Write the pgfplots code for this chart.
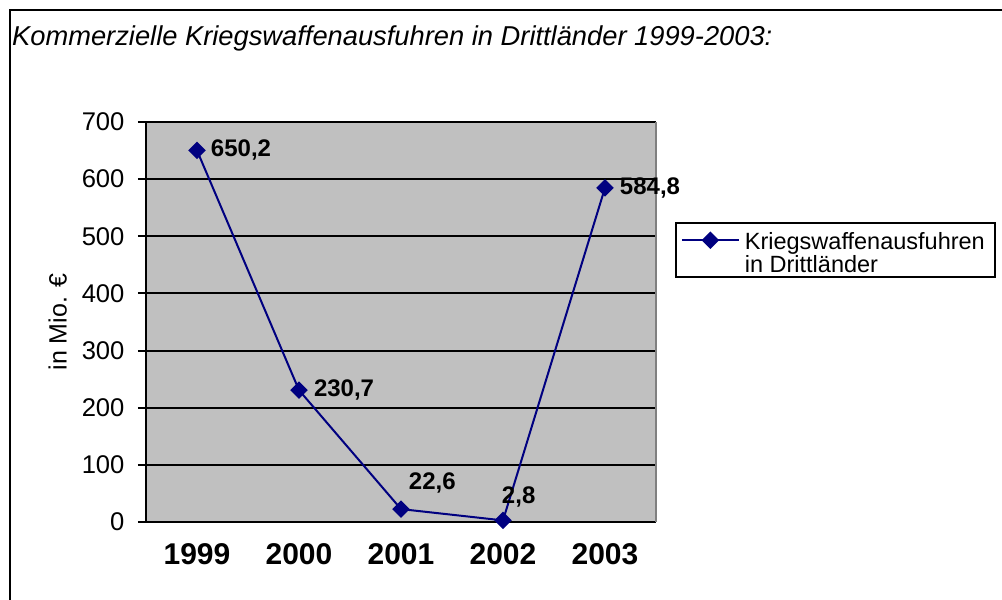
\documentclass[border=0pt]{standalone}
\usepackage{fontspec}
\setmainfont{Liberation Sans}
\usepackage{pgfplots}
\pgfplotsset{compat=1.18}
\definecolor{navy}{HTML}{000080}
\definecolor{plotgray}{HTML}{C0C0C0}
\begin{document}
\begin{tikzpicture}[x=1pt,y=1pt]
\useasboundingbox (0,0) rectangle (1002,600);
\draw[line width=2pt] (10,-20) -- (10,590) -- (1030,590);
\node[anchor=base west, inner sep=0pt, font=\itshape\fontsize{27.3}{32}\selectfont] at (12,554) {Kommerzielle Kriegswaffenausfuhren in Drittländer 1999-2003:};
\begin{axis}[
  at={(146pt,78pt)}, anchor=south west,
  width=510pt, height=400pt, scale only axis,
  xmin=-0.5, xmax=4.5, ymin=0, ymax=700,
  axis background/.style={fill=plotgray},
  axis line style={draw=none},
  ytick={0,100,...,700},
  ymajorgrids, major grid style={black, line width=2pt},
  tick pos=left, tick align=outside,
  major tick length=8pt,
  every tick/.style={black, line width=2pt},
  yticklabel style={font=\fontsize{25.6}{30}\selectfont, xshift=-10pt},
  /pgf/number format/assume math mode=true,
  xtick={0,1,2,3,4},
  xticklabels={1999,2000,2001,2002,2003},
  major x tick style={draw=none},
  extra x ticks={-0.5,0.5,1.5,2.5,3.5,4.5},
  extra x tick labels={},
  extra x tick style={major tick length=8pt, grid=none},
  xticklabel style={font=\bfseries\fontsize{30}{34}\selectfont, yshift=-10pt},
  ylabel={in Mio. €},
  every axis y label/.style={at={(rel axis cs:-0.173,0.5)}, rotate=90, anchor=center, font=\fontsize{25}{30}\selectfont},
  legend style={at={(rel axis cs:1.037,0.75)}, anchor=north west, draw=black, line width=2pt, fill=white,
    font=\fontsize{23.5}{21}\selectfont, cells={align=left, anchor=west}, inner xsep=5pt, inner ysep=2pt,
    nodes={inner xsep=5pt, inner ysep=1pt}},
  legend image code/.code={\draw[mark repeat=2,mark phase=2,#1] plot coordinates {(0pt,10pt) (28.5pt,10pt) (57pt,10pt)};},
  clip=false,
]
\draw[black, line width=2pt] (rel axis cs:0,1) -- (rel axis cs:0,0) -- (rel axis cs:1,0);
\draw[gray, line width=2pt] (rel axis cs:1,0) -- (rel axis cs:1,1);
\addplot[navy, line width=2pt, mark=square*, mark size=5.2pt, mark options={rotate=45, solid, fill=navy},
  nodes near coords, point meta=explicit symbolic,
  visualization depends on={value \thisrow{dx} \as \dx},
  visualization depends on={value \thisrow{dy} \as \dy},
  nodes near coords style={font=\bfseries\fontsize{24}{28}\selectfont, text=black, anchor=west, inner sep=0pt, xshift=\dx pt, yshift=\dy pt}]
table[x=x, y=y, meta=lab] {
x y lab dx dy
0 650.2 {650,2} 13 0
1 230.7 {230,7} 14 0
2 22.6 {22,6} 7 26
3 2.8 {2,8} -2 23
4 584.8 {584,8} 14 0
};
\addlegendentry{\rule{0pt}{24pt}Kriegswaffenausfuhren\\in Drittländer}
\end{axis}
\end{tikzpicture}
\end{document}
